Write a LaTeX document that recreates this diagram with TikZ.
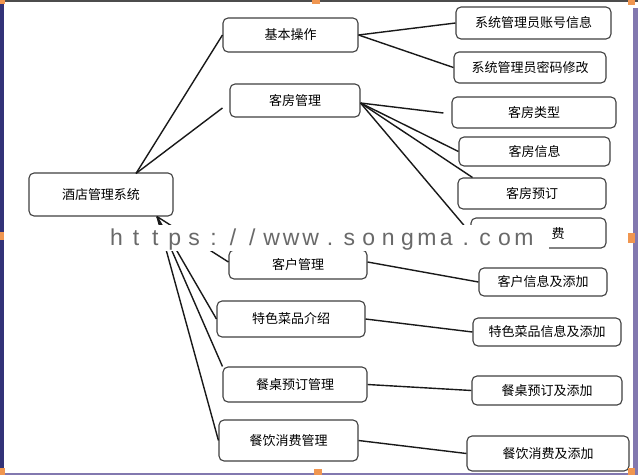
\documentclass[tikz,border=0pt]{standalone}
\usepackage{fontspec}
\setmainfont{Liberation Sans}
\newfontfamily\cjk{Noto Sans CJK SC}
\usetikzlibrary{calc}
\definecolor{frameblue}{RGB}{50,50,120}
\definecolor{framelav}{RGB}{130,120,175}
\definecolor{handle}{RGB}{240,150,80}
\definecolor{wmgray}{RGB}{105,105,105}
\newcommand\wmc[1]{\makebox[19.4pt]{#1}}
\begin{document}
\begin{tikzpicture}[x=1pt,y=-1pt,
  box/.style={draw=black!75, line width=1.1pt, rounded corners=5pt, fill=white,
    font=\cjk\fontsize{13}{15}\selectfont, inner sep=0pt},
  link/.style={draw=black!90, line width=1.4pt},
  handlebox/.style={fill=handle}]
\useasboundingbox (0,0) rectangle (638,475);
\fill[white] (0,0) rectangle (638,475);

% level 0
\node[box, minimum width=144pt, minimum height=43pt] (root) at (101,194.5) {酒店管理系统};
% level 1
\node[box, minimum width=135pt, minimum height=34pt] (jb) at (290.5,35) {基本操作};
\node[box, minimum width=130pt, minimum height=33pt] (kf) at (295,100.5) {客房管理};
\node[box, minimum width=138pt, minimum height=29pt] (kh) at (298,264.5) {客户管理};
\node[box, minimum width=148pt, minimum height=36pt] (ts) at (291,319) {特色菜品介绍};
\node[box, minimum width=144pt, minimum height=35pt] (cz) at (295,384.5) {餐桌预订管理};
\node[box, minimum width=139pt, minimum height=41pt] (cy) at (288.5,440.5) {餐饮消费管理};
% level 2
\node[box, minimum width=155pt, minimum height=32pt] (a1) at (533.5,23) {系统管理员账号信息};
\node[box, minimum width=152pt, minimum height=31pt] (a2) at (530,67.5) {系统管理员密码修改};
\node[box, minimum width=164pt, minimum height=31pt] (b1) at (534,112.5) {客房类型};
\node[box, minimum width=151pt, minimum height=29pt] (b2) at (534.5,151.5) {客房信息};
\node[box, minimum width=148pt, minimum height=31pt] (b3) at (532,193.5) {客房预订};
\node[box, minimum width=135pt, minimum height=30pt] (b4) at (538.5,233) {\phantom{客房消}费};
\node[box, minimum width=128pt, minimum height=28pt] (c1) at (543,282) {客户信息及添加};
\node[box, minimum width=148pt, minimum height=28pt] (c2) at (547,332) {特色菜品信息及添加};
\node[box, minimum width=150pt, minimum height=29pt] (c3) at (547,390.5) {餐桌预订及添加};
\node[box, minimum width=162pt, minimum height=35pt] (c4) at (548,453.5) {餐饮消费及添加};

% connectors from root
\draw[link] ($(root.north)+(35,1)$) -- (jb.west);
\draw[link] ($(root.north)+(35,1)$) -- ($(kf.west)+(-7,7.5)$);
\draw[link] ($(root.south)+(56,0)$) -- ($(kh.west)+(0,-2.5)$);
\draw[link] ($(root.south)+(56,0)$) -- (ts.west);
\draw[link] ($(root.south)+(56,0)$) -- (cz.north west);
\draw[link] ($(root.south)+(56,0)$) -- (cy.west);
% connectors level 1 -> 2
\draw[link] (jb.east) -- (a1.west);
\draw[link] (jb.east) -- (a2.west);
\draw[link] ($(kf.east)+(0,2.5)$) -- ($(b1.west)+(-8,0.5)$);
\draw[link] ($(kf.east)+(0,2.5)$) -- (b2.west);
\draw[link] ($(kf.east)+(0,2.5)$) -- ($(b3.north west)+(15,0)$);
\draw[link] ($(kf.east)+(0,2.5)$) -- (b4.west);
\draw[link] ($(kh.east)+(0,-2.5)$) -- (c1.west);
\draw[link] (ts.east) -- (c2.west);
\draw[link] (cz.east) -- (c3.west);
\draw[link] (cy.east) -- (c4.west);

% watermark
\fill[white] (106,225) rectangle (549,251);
\node[anchor=base west, inner sep=0pt, text=wmgray, font=\fontsize{23}{23}\selectfont] (wm) at (106.7,245.5)
  {\wmc{h}\wmc{t}\wmc{t}\wmc{p}\wmc{s}\wmc{:}\wmc{/}\wmc{/}\wmc{w}\wmc{w}\wmc{w}\wmc{.}\wmc{s}\wmc{o}\wmc{n}\wmc{g}\wmc{m}\wmc{a}\wmc{.}\wmc{c}\wmc{o}\wmc{m}};

% frame
\fill[frameblue] (0,0) rectangle (3.5,475);
\fill[black!70] (0,0) rectangle (638,1.5);
\fill[framelav] (633,8) rectangle (638,475);
\fill[framelav] (0,473) rectangle (638,475);
% handles
\fill[handlebox] (0,0) rectangle (5,4);
\fill[handlebox] (312,0) rectangle (320,4);
\fill[handlebox] (628,0) rectangle (635,5);
\fill[handlebox] (0,232) rectangle (4,240);
\fill[handlebox] (628,233) rectangle (635,243);
\fill[handlebox] (0,468) rectangle (5,475);
\fill[handlebox] (314,469) rectangle (322,475);
\fill[handlebox] (628,468) rectangle (635,475);
\end{tikzpicture}
\end{document}
